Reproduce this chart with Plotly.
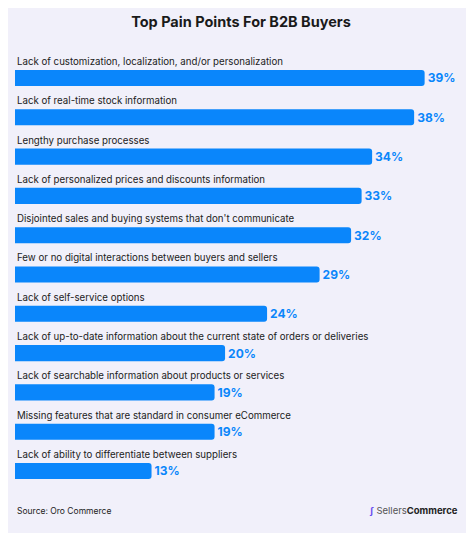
import plotly.graph_objects as go

categories = [
    "Lack of customization, localization, and/or personalization",
    "Lack of real-time stock information",
    "Lengthy purchase processes",
    "Lack of personalized prices and discounts information",
    "Disjointed sales and buying systems that don't communicate",
    "Few or no digital interactions between buyers and sellers",
    "Lack of self-service options",
    "Lack of up-to-date information about the current state of orders or deliveries",
    "Lack of searchable information about products or services",
    "Missing features that are standard in consumer eCommerce",
    "Lack of ability to differentiate between suppliers",
]
values = [39, 38, 34, 33, 32, 29, 24, 20, 19, 19, 13]

idx = list(range(len(categories)))
BLUE = "#0a86fb"
BG = "#f1f0fa"

fig = go.Figure(go.Bar(
    x=values, y=idx, orientation="h", width=0.41,
    marker=dict(color=BLUE, cornerradius=3, line=dict(width=0)),
    text=[f"{v}%" for v in values], textposition="outside",
    textfont=dict(family="Inter", size=12, color=BLUE, weight="bold"),
    cliponaxis=False, hoverinfo="skip",
))

for i, c in zip(idx, categories):
    fig.add_annotation(x=0, y=i - 0.42, text=c, showarrow=False,
                       xanchor="left", yanchor="middle", xref="x", yref="y",
                       font=dict(family="Inter", size=9.7, color="#222222"))

fig.add_annotation(xref="paper", yref="paper", x=0, y=-0.041, text="Source: Oro Commerce",
                   showarrow=False, xanchor="left", yanchor="middle",
                   font=dict(family="Inter", size=8.5, color="#222222"))

fig.add_annotation(xref="paper", yref="paper", x=0.97, y=-0.041, xanchor="right", yanchor="middle",
                   showarrow=False,
                   text="<span style='color:#6a4cf0'><b>∫</b></span> <span style='color:#555'>Sellers</span><b>Commerce</b>",
                   font=dict(family="Inter", size=9.5, color="#222222"))

fig.update_layout(
    width=466, height=525, paper_bgcolor=BG, plot_bgcolor=BG,
    margin=dict(l=7, r=0, t=42, b=40),
    title=dict(text="<b>Top Pain Points For B2B Buyers</b>", x=0.5, xanchor="center", y=0.973,
               yanchor="middle", font=dict(family="Inter", size=14.5, color="#1a1a1a")),
    xaxis=dict(range=[0, 43.7], visible=False),
    yaxis=dict(range=[10.56, -0.712], visible=False),
    showlegend=False,
)
fig.write_html("out.html")
